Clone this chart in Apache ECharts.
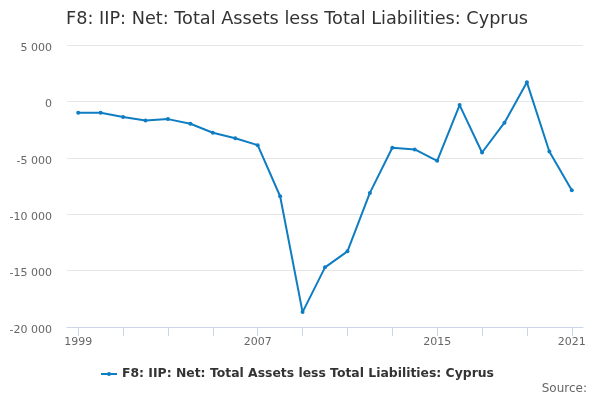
<!DOCTYPE html>
<html><head><meta charset="utf-8">
<script src="https://cdn.jsdelivr.net/npm/echarts@6/dist/echarts.min.js"></script>
<style>html,body{margin:0;padding:0;background:#fff}#c{width:600px;height:400px}</style>
</head><body><div id="c"></div>
<script>
const years = ['1999','2000','2001','2002','2003','2004','2005','2006','2007','2008','2009','2010','2011','2012','2013','2014','2015','2016','2017','2018','2019','2020','2021'];
const values = [-1000,-1000,-1390,-1690,-1570,-1980,-2780,-3260,-3880,-8410,-18680,-14710,-13290,-8110,-4110,-4260,-5270,-330,-4530,-1890,1690,-4440,-7880];
const shownLabels = ['1999','2007','2015','2021'];
const seriesName = 'F8: IIP: Net: Total Assets less Total Liabilities: Cyprus';
const titleText = 'F8: IIP: Net: Total Assets less Total Liabilities: Cyprus';
const sourceText = 'Source:';

const lineColor = '#0f7dc2';
const fmt = v => {
  const s = Math.abs(v).toString().replace(/\B(?=(\d{3})+(?!\d))/g, ' ');
  return (v < 0 ? '-' : '') + s;
};
const chart = echarts.init(document.getElementById('c'), null, {renderer:'canvas'});
chart.setOption({
  animation:false,
  textStyle:{fontFamily:'DejaVu Sans'},
  title:[{text:titleText,left:61,top:5,textStyle:{fontSize:17.7,fontWeight:'normal',color:'#333',fontFamily:'DejaVu Sans'}},
         {text:sourceText,right:8,top:378,textStyle:{fontSize:12,fontWeight:'normal',color:'#666',fontFamily:'DejaVu Sans'}}],
  legend:{bottom:15,left:96,itemWidth:16,itemHeight:4,itemGap:10,
    textStyle:{fontSize:12.4,fontWeight:'bold',color:'#333',fontFamily:'DejaVu Sans'},
    data:[{name:seriesName,icon:'path://M0,3H16V5H0Z M10,4A2,2 0 1,1 6,4A2,2 0 1,1 10,4Z',itemStyle:{color:lineColor}}]},
  grid:{left:67,right:17,top:45,bottom:73},
  xAxis:{type:'category',data:years,boundaryGap:true,
    axisLine:{onZero:false,lineStyle:{color:'#ccd6eb'}},
    axisTick:{show:true,alignWithLabel:true,length:9,lineStyle:{color:'#ccd6eb'},interval:(i)=>i%2===0},
    axisLabel:{color:'#666',fontSize:11,margin:10,interval:(i,v)=>shownLabels.includes(v)},
    splitLine:{show:false}},
  yAxis:{type:'value',min:-20000,max:5000,interval:5000,
    axisLine:{show:false},axisTick:{show:false},
    axisLabel:{color:'#666',fontSize:11,margin:15,verticalAlign:'top',lineHeight:6,formatter:fmt},
    splitLine:{lineStyle:{color:'#e6e6e6'}}},
  series:[{name:seriesName,type:'line',data:values,symbol:'circle',symbolSize:4,
    lineStyle:{width:2,color:lineColor},itemStyle:{color:lineColor}}]
});
</script></body></html>
